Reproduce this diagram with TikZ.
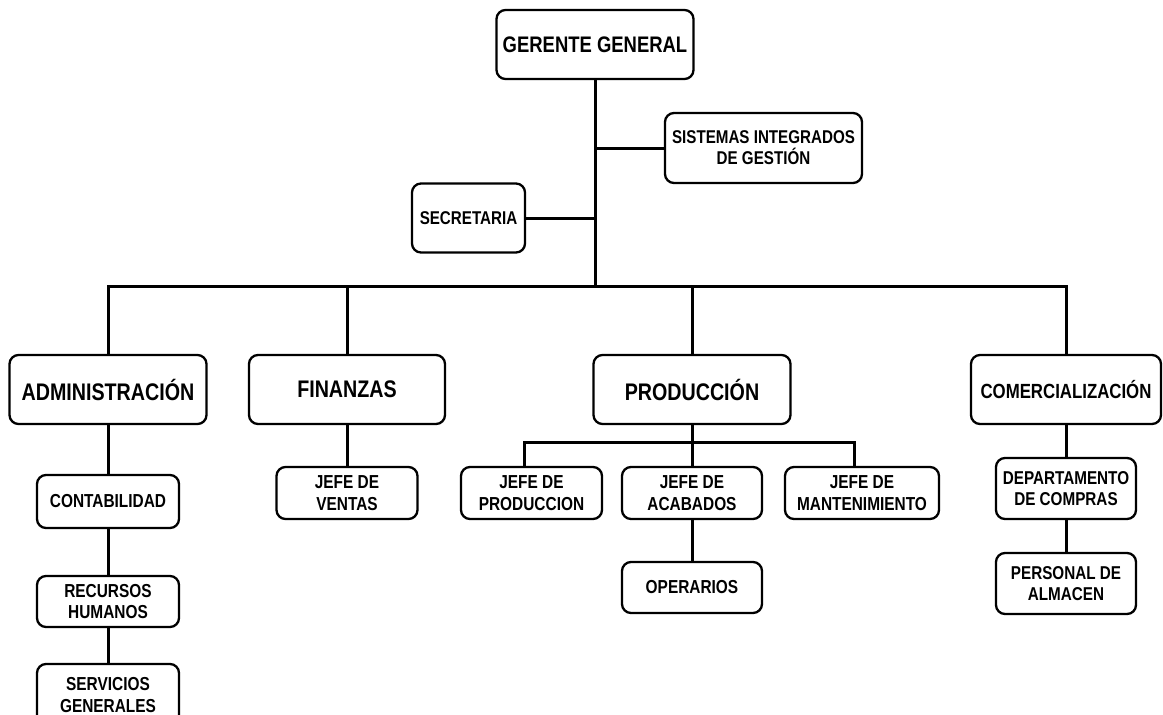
\documentclass[tikz,border=0pt]{standalone}
\usepackage{fontspec}
\setmainfont{Liberation Sans}[FakeStretch=0.82]
\begin{document}
\begin{tikzpicture}[x=1pt,y=-1pt,
  box/.style={draw=black, line width=2.3pt, rounded corners=9pt, fill=white,
    inner sep=0pt, align=center, font=\bfseries},
  top/.style={box, font=\fontsize{22.5}{26}\selectfont\bfseries},
  big/.style={box, font=\fontsize{24}{28}\selectfont\bfseries},
  mid/.style={box, font=\fontsize{18.5}{21}\selectfont\bfseries},
  small/.style={box, font=\fontsize{18.8}{21.8}\selectfont\bfseries},
  tight/.style={box, font=\fontsize{18.6}{20.5}\selectfont\bfseries},
  link/.style={draw=black, line width=3pt}
]
\useasboundingbox (0,0) rectangle (1163,715);
\clip (0,0) rectangle (1163,715);

% nodes
\node[top, minimum width=197pt, minimum height=69pt] (gg) at (595,44.5) {GERENTE GENERAL};
\node[mid, minimum width=197pt, minimum height=70pt] (sig) at (763.5,148) {SISTEMAS INTEGRADOS\\DE GESTIÓN};
\node[mid, minimum width=113pt, minimum height=69pt] (sec) at (468.5,218) {SECRETARIA};

\node[big, minimum width=197pt, minimum height=69pt] (adm) at (108,389.5) {ADMINISTRACIÓN};
\node[big, minimum width=196pt, minimum height=69pt] (fin) at (347,389.5) {FINANZAS};
\node[big, minimum width=197pt, minimum height=69pt] (prod) at (692,389.5) {PRODUCCIÓN};
\node[box, font=\fontsize{20.5}{24}\selectfont\bfseries, minimum width=190pt, minimum height=69pt] (com) at (1066,389.5) {COMERCIALIZACIÓN};

\node[small, minimum width=142pt, minimum height=53pt] (cont) at (108,501.5) {CONTABILIDAD};
\node[small, minimum width=142pt, minimum height=51pt] (rh) at (108,601.5) {RECURSOS\\HUMANOS};
\node[small, minimum width=142pt, minimum height=62pt] (sg) at (108,695) {SERVICIOS\\GENERALES};

\node[small, minimum width=141pt, minimum height=52pt] (jv) at (347,493) {JEFE DE\\VENTAS};
\node[small, minimum width=141pt, minimum height=52pt] (jp) at (531.5,493) {JEFE DE\\PRODUCCION};
\node[small, minimum width=140pt, minimum height=52pt] (ja) at (692,493) {JEFE DE\\ACABADOS};
\node[small, minimum width=154pt, minimum height=52pt] (jm) at (862,493) {JEFE DE\\MANTENIMIENTO};
\node[small, minimum width=140pt, minimum height=51pt] (op) at (692,587.5) {OPERARIOS};

\node[tight, minimum width=140pt, minimum height=61pt] (dc) at (1066,488.5) {DEPARTAMENTO\\DE COMPRAS};
\node[tight, minimum width=140pt, minimum height=61pt] (pa) at (1066,583.5) {PERSONAL DE\\ALMACEN};

% junction coordinates
\coordinate (bus) at (595,286);
\coordinate (busL) at (108,286);
\coordinate (busR) at (1066,286);
\coordinate (jsig) at (595,148);
\coordinate (sub) at (692,442);
\coordinate (subL) at (524,442);
\coordinate (subR) at (854,442);

% connectors
\draw[link] (gg.south) -- (bus);
\draw[link] (jsig) -- (sig.west);
\draw[link] (sec.east) -- (sec.east -| bus);
\draw[link, line cap=rect] (busL) -- (busR);
\draw[link] (busL) -- (adm.north);
\draw[link] (fin.north |- bus) -- (fin.north);
\draw[link] (prod.north |- bus) -- (prod.north);
\draw[link] (busR) -- (com.north);

\draw[link] (adm.south) -- (cont.north);
\draw[link] (cont.south) -- (rh.north);
\draw[link] (rh.south) -- (sg.north);

\draw[link] (fin.south) -- (jv.north);

\draw[link] (prod.south) -- (sub);
\draw[link, line cap=rect] (subL) -- (subR);
\draw[link] (subL) -- (subL |- jp.north);
\draw[link] (sub) -- (ja.north);
\draw[link] (subR) -- (subR |- jm.north);
\draw[link] (ja.south) -- (op.north);

\draw[link] (com.south) -- (dc.north);
\draw[link] (dc.south) -- (pa.north);
\end{tikzpicture}
\end{document}
